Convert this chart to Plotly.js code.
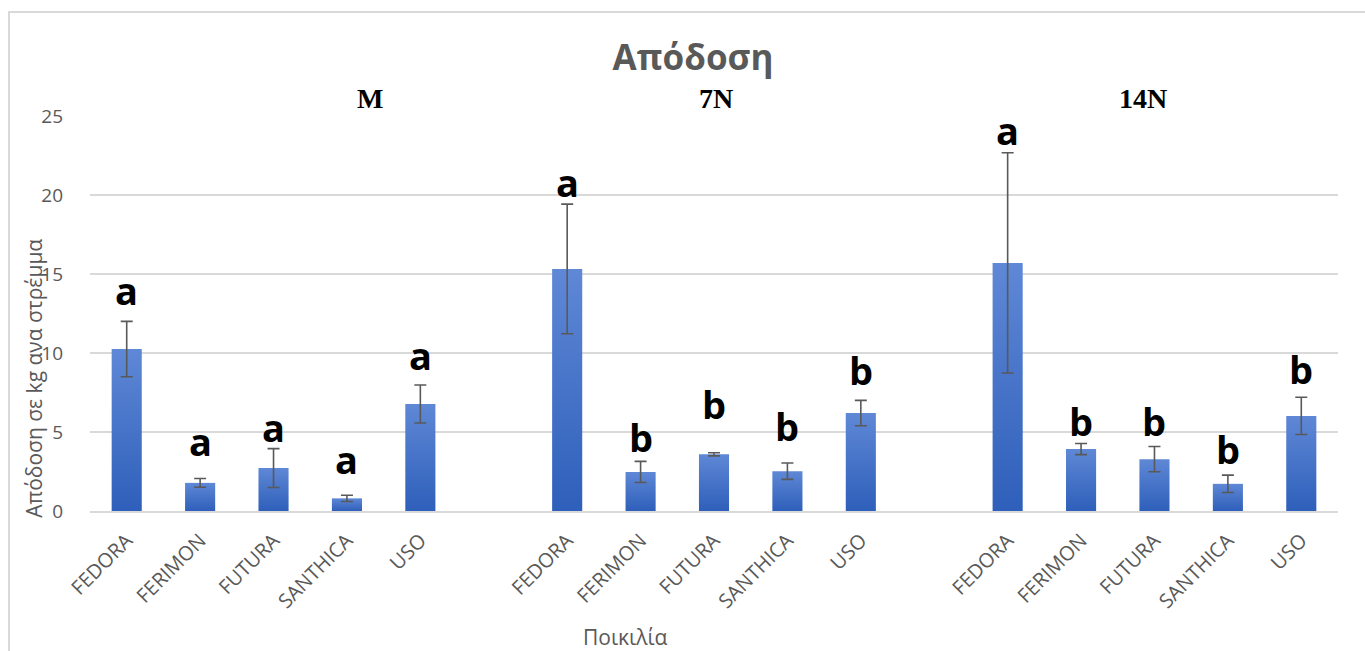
<!DOCTYPE html>
<html>
<head>
<meta charset="utf-8">
<script src="https://cdn.plot.ly/plotly-3.0.1.min.js"></script>
<style>
  html, body { margin: 0; padding: 0; background: #fff; overflow: hidden; }
  #chart { width: 1365px; height: 651px; }
  #frame { position: absolute; left: 8px; top: 11px; width: 1400px; height: 700px;
           border: 2px solid #d9d9d9; pointer-events: none; box-sizing: border-box; }
</style>
</head>
<body>
<div id="chart"></div>
<div id="frame"></div>
<script>
// ---- Data ----
const categories = ["FEDORA", "FERIMON", "FUTURA", "SANTHICA", "USO"];
const groups = ["M", "7N", "14N"];

const valuesM   = [10.25, 1.78, 2.72, 0.8, 6.77];
const valuesN7  = [15.32, 2.47, 3.59, 2.52, 6.2];
const valuesN14 = [15.7, 3.92, 3.28, 1.72, 6.02];

const errM   = [1.75, 0.28, 1.23, 0.2, 1.2];
const errN7  = [4.1, 0.67, 0.1, 0.52, 0.8];
const errN14 = [6.97, 0.35, 0.8, 0.55, 1.18];

const lettersM   = ["a", "a", "a", "a", "a"];
const lettersN7  = ["a", "b", "b", "b", "b"];
const lettersN14 = ["a", "b", "b", "b", "b"];

// heights (in y units) where the significance letters sit
const letterLevelM   = [14.0, 4.4, 5.3, 3.3, 9.9];
const letterLevelN7  = [20.8, 4.7, 6.8, 5.35, 8.9];
const letterLevelN14 = [24.1, 5.7, 5.7, 3.9, 9.0];

const yTickVals = [0, 5, 10, 15, 20, 25];

// ---- Build series (one empty slot between groups) ----
const allValues = [valuesM, valuesN7, valuesN14];
const allErr = [errM, errN7, errN14];
const allLetters = [lettersM, lettersN7, lettersN14];
const allLevels = [letterLevelM, letterLevelN7, letterLevelN14];

const xs = [], ys = [], es = [], tickvals = [], ticktext = [];
const annotations = [];
allValues.forEach((vals, g) => {
  vals.forEach((v, i) => {
    const x = g * (categories.length + 1) + i;
    xs.push(x); ys.push(v); es.push(allErr[g][i]);
    tickvals.push(x); ticktext.push(categories[i]);
    annotations.push({
      x: x, y: allLevels[g][i], xref: "x", yref: "y",
      text: allLetters[g][i], showarrow: false,
      font: { family: "Open Sans, sans-serif", size: 38, color: "#000", weight: 700 },
      yanchor: "middle"
    });
  });
});

const groupLabelX = [0.2244, 0.5016, 0.8438];
groups.forEach((gname, g) => {
  annotations.push({
    x: groupLabelX[g], y: 1.044, xref: "paper", yref: "paper",
    text: "<b>" + gname + "</b>", showarrow: false,
    font: { family: "Liberation Serif, Times New Roman, serif", size: 28, color: "#000" },
    yanchor: "middle", xanchor: "center"
  });
});

// y axis title (placed like the original, lower than centre)
annotations.push({
  x: -0.045, y: 0.337, xref: "paper", yref: "paper",
  text: "Απόδοση σε kg ανα στρέμμα", textangle: -90, showarrow: false,
  font: { family: "Open Sans, sans-serif", size: 21, color: "#595959" },
  xanchor: "center", yanchor: "middle"
});
// x axis title
annotations.push({
  x: 0.4287, y: -0.319, xref: "paper", yref: "paper",
  text: "Ποικιλία", showarrow: false,
  font: { family: "Open Sans, sans-serif", size: 21, color: "#595959" },
  xanchor: "center", yanchor: "middle"
});

const trace = {
  type: "bar",
  x: xs, y: ys,
  width: 0.41,
  marker: { color: "#4472c8", line: { width: 0 } },
  error_y: { type: "data", array: es, visible: true, color: "#595959", thickness: 1.6, width: 6 },
  hoverinfo: "skip"
};

const layout = {
  width: 1365, height: 651,
  paper_bgcolor: "#fff", plot_bgcolor: "#fff",
  margin: { l: 90, r: 27, t: 116, b: 140 },
  showlegend: false,
  title: {
    text: "<b>Απόδοση</b>",
    x: 0.5077, xref: "container", xanchor: "center",
    y: 0.911, yref: "container", yanchor: "middle",
    font: { family: "Open Sans, sans-serif", size: 35, color: "#595959" }
  },
  xaxis: {
    range: [-0.5, 16.5],
    tickvals: tickvals, ticktext: ticktext,
    tickangle: -45,
    tickfont: { family: "Open Sans, sans-serif", size: 20, color: "#595959" },
    showgrid: false, zeroline: false,
    showline: true, linecolor: "#d9d9d9", linewidth: 2,
    ticks: "", ticklabelstandoff: 8,
    fixedrange: true
  },
  yaxis: {
    range: [0, 25],
    tickvals: yTickVals,
    tickfont: { family: "Open Sans, sans-serif", size: 19, color: "#595959" },
    showgrid: true, gridcolor: "#d9d9d9", gridwidth: 1.5,
    zeroline: false, showline: false,
    ticks: "", ticklabelstandoff: 26,
    fixedrange: true
  },
  annotations: annotations
};

Plotly.newPlot("chart", [trace], layout, { displayModeBar: false, staticPlot: true }).then(gd => {
  // vertical gradient on the bars, like the original
  const svg = gd.querySelector("svg.main-svg");
  const ns = "http://www.w3.org/2000/svg";
  let defs = svg.querySelector("defs");
  if (!defs) { defs = document.createElementNS(ns, "defs"); svg.insertBefore(defs, svg.firstChild); }
  const lg = document.createElementNS(ns, "linearGradient");
  lg.setAttribute("id", "barGrad");
  lg.setAttribute("x1", "0"); lg.setAttribute("y1", "0");
  lg.setAttribute("x2", "0"); lg.setAttribute("y2", "1");
  [["0%", "#5f88d6"], ["100%", "#2e5fba"]].forEach(([o, c]) => {
    const s = document.createElementNS(ns, "stop");
    s.setAttribute("offset", o); s.setAttribute("stop-color", c);
    lg.appendChild(s);
  });
  defs.appendChild(lg);
  gd.querySelectorAll(".bars .point path").forEach(p => { p.style.fill = "url(#barGrad)"; });
});
</script>
</body>
</html>
